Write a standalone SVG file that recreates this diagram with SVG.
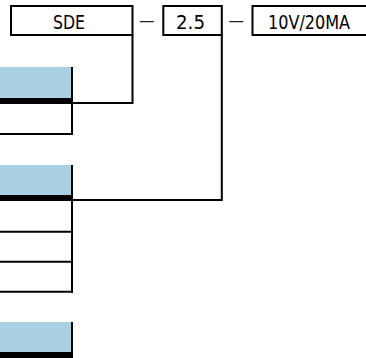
<svg xmlns="http://www.w3.org/2000/svg" width="366" height="358" viewBox="0 0 366 358">
<style>
.box{fill:#fff;stroke:#000;stroke-width:2}
.t{font-family:"DejaVu Sans Condensed","DejaVu Sans",sans-serif;font-size:20px;fill:#000}
.d{font-family:"DejaVu Sans Condensed","DejaVu Sans",sans-serif;font-size:16px;fill:#222}
.hdr{fill:#a9d1e3}
.bar{fill:#000}
.ln{stroke:#000;stroke-width:2;fill:none}
</style>
<rect width="366" height="358" fill="#fff"/>
<g id="connectors">
<polyline class="ln" points="132.5,35 132.5,103 72,103"/>
<polyline class="ln" points="221.8,35 221.8,200 72,200"/>
</g>
<g id="code-sde">
<rect class="box" x="11" y="6" width="121.5" height="29"/>
<text class="t" x="53" y="28.5" textLength="32" lengthAdjust="spacingAndGlyphs">SDE</text>
</g>
<text class="d" x="139" y="26" textLength="15.5" lengthAdjust="spacingAndGlyphs">—</text>
<g id="code-2-5">
<rect class="box" x="163.3" y="6" width="58.5" height="29"/>
<text class="t" x="176" y="28.5" textLength="29" lengthAdjust="spacingAndGlyphs">2.5</text>
</g>
<text class="d" x="228.5" y="26" textLength="15.5" lengthAdjust="spacingAndGlyphs">—</text>
<g id="code-10v">
<rect class="box" x="252.5" y="6" width="120" height="29"/>
<text class="t" x="268" y="28.5" textLength="82" lengthAdjust="spacingAndGlyphs">10V/20MA</text>
</g>
<g id="node-1">
<rect class="hdr" x="0" y="67" width="72" height="31"/>
<rect class="bar" x="0" y="98" width="73" height="6"/>
<line class="ln" x1="0" y1="134" x2="73" y2="134"/>
<line class="ln" x1="72" y1="67" x2="72" y2="135"/>
</g>
<g id="node-2">
<rect class="hdr" x="0" y="165" width="72" height="30"/>
<rect class="bar" x="0" y="195" width="73" height="6"/>
<line class="ln" x1="0" y1="231.8" x2="73" y2="231.8"/>
<line class="ln" x1="0" y1="261.8" x2="73" y2="261.8"/>
<line class="ln" x1="0" y1="291.7" x2="73" y2="291.7"/>
<line class="ln" x1="72" y1="165" x2="72" y2="292.7"/>
</g>
<g id="node-3">
<rect class="hdr" x="0" y="322" width="72" height="30"/>
<rect class="bar" x="0" y="352" width="73" height="6"/>
<line class="ln" x1="72" y1="322" x2="72" y2="358"/>
</g>
</svg>
